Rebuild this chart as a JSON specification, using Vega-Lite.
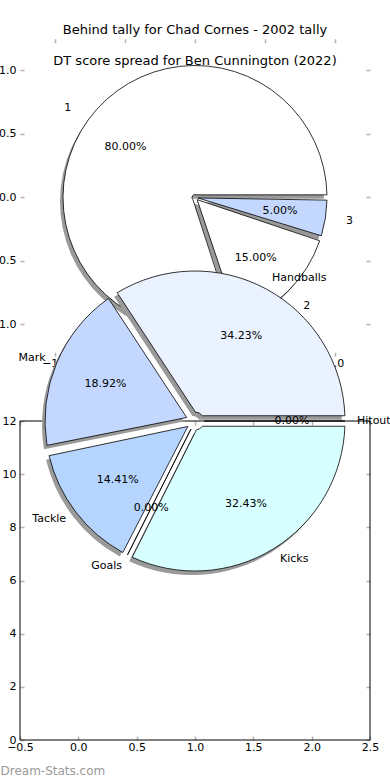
{
  "$schema": "https://vega.github.io/schema/vega-lite/v6.json",
  "width": 390,
  "height": 780,
  "autosize": {"type": "none"},
  "padding": 0,
  "background": "white",
  "title": {
    "text": "Behind tally for Chad Cornes - 2002 tally",
    "subtitle": "DT score spread for Ben Cunnington (2022)",
    "anchor": "middle",
    "frame": "group",
    "offset": -68,
    "font": "DejaVu Sans",
    "subtitleFont": "DejaVu Sans",
    "fontSize": 13,
    "subtitleFontSize": 13,
    "fontWeight": "normal",
    "color": "#000000",
    "subtitleColor": "#000000",
    "subtitlePadding": 18
  },
  "datasets": {
    "behind": [
      {"name": "1", "value": 16, "pct": "80.00%", "idx": 1},
      {"name": "2", "value": 3, "pct": "15.00%", "idx": 2},
      {"name": "3", "value": 1, "pct": "5.00%", "idx": 3}
    ],
    "dt": [
      {"name": "Handballs", "value": 38, "pct": "34.23%", "idx": 1},
      {"name": "Mark", "value": 21, "pct": "18.92%", "idx": 2},
      {"name": "Tackle", "value": 16, "pct": "14.41%", "idx": 3},
      {"name": "Goals", "value": 0, "pct": "0.00%", "idx": 4},
      {"name": "Kicks", "value": 36, "pct": "32.43%", "idx": 5},
      {"name": "Hitout", "value": 0, "pct": "0.00%", "idx": 6}
    ]
  },
  "config": {
    "font": "DejaVu Sans",
    "view": {"stroke": null},
    "axis": {
      "domain": false,
      "grid": false,
      "tickColor": "#b3b3b3",
      "tickSize": -4,
      "tickWidth": 1.5,
      "labelFont": "DejaVu Sans",
      "labelFontSize": 11,
      "labelColor": "#000000",
      "labelPadding": 5,
      "labelFlush": false,
      "labelOverlap": false,
      "labelBound": false
    },
    "text": {"font": "DejaVu Sans", "fontSize": 11, "color": "#000000"}
  },
  "resolve": {
    "scale": {"x": "independent", "y": "independent", "theta": "independent", "color": "independent"},
    "axis": {"x": "independent", "y": "independent"}
  },
  "layer": [
    {
      "data": {"name": "behind"},
      "resolve": {"axis": {"x": "independent", "y": "independent"}},
      "layer": [
        {
          "mark": {"type": "arc", "radius": 132, "radius2": 3, "padAngle": 0.04, "fill": "#9a9a9a", "xOffset": -3, "yOffset": 4},
          "encoding": {
            "x": {"datum": 0, "type": "quantitative", "scale": {"domain": [-1.392857, 1.392857], "nice": false, "zero": false}, "axis": {"orient": "bottom", "offset": -423.75, "values": [-1, -0.5, 0, 0.5, 1], "format": ".1f", "title": null}},
            "y": {"datum": 0, "type": "quantitative", "scale": {"domain": [-4.5866, 1.5551], "nice": false, "zero": false}, "axis": {"orient": "left", "offset": -20, "values": [-1, -0.5, 0, 0.5, 1], "format": ".1f", "labelPadding": 8, "title": null}},
            "theta": {"field": "value", "type": "quantitative", "stack": true, "scale": {"range": [1.5708, -4.7124]}},
            "order": {"field": "idx"}
          }
        },
        {
          "mark": {"type": "arc", "radius": 132, "radius2": 3, "padAngle": 0.04, "stroke": "#000000", "strokeWidth": 0.8},
          "encoding": {
            "x": {"datum": 0, "type": "quantitative", "scale": {"domain": [-1.392857, 1.392857], "nice": false, "zero": false}, "axis": {"orient": "top", "offset": -38.75, "values": [-1, -0.5, 0, 0.5, 1], "labels": false, "title": null}},
            "y": {"datum": 0, "type": "quantitative", "scale": {"domain": [-4.5866, 1.5551], "nice": false, "zero": false}, "axis": {"orient": "right", "offset": -20, "values": [-1, -0.5, 0, 0.5, 1], "labels": false, "title": null}},
            "theta": {"field": "value", "type": "quantitative", "stack": true, "scale": {"range": [1.5708, -4.7124]}},
            "order": {"field": "idx"},
            "color": {"field": "name", "type": "nominal", "scale": {"domain": ["1", "2", "3"], "range": ["#ffffff", "#ffffff", "#c4d8ff"]}, "legend": null}
          }
        },
        {
          "mark": {"type": "text", "radius": 153, "baseline": "middle", "align": {"expr": "indexof(['2','3'], datum.name) >= 0 ? 'left' : 'right'"}},
          "encoding": {
            "x": {"datum": 0, "type": "quantitative", "axis": null},
            "y": {"datum": 0, "type": "quantitative", "axis": null},
            "theta": {"field": "value", "type": "quantitative", "stack": true},
            "order": {"field": "idx"},
            "text": {"field": "name"}
          }
        },
        {
          "mark": {"type": "text", "radius": 86, "baseline": "middle", "align": "center"},
          "encoding": {
            "x": {"datum": 0, "type": "quantitative", "axis": null},
            "y": {"datum": 0, "type": "quantitative", "axis": null},
            "theta": {"field": "value", "type": "quantitative", "stack": true},
            "order": {"field": "idx"},
            "text": {"field": "pct"}
          }
        }
      ]
    },
    {
      "data": {"name": "dt"},
      "resolve": {"axis": {"x": "independent", "y": "independent"}},
      "layer": [
        {
          "data": {"values": [{}]},
          "mark": {"type": "rect", "fill": null, "fillOpacity": 0, "stroke": "#000000", "strokeWidth": 1},
          "encoding": {
            "x": {"datum": -0.5, "type": "quantitative", "scale": {"domain": [-0.671429, 2.671429], "nice": false, "zero": false}, "axis": {"orient": "bottom", "offset": -40, "values": [-0.5, 0, 0.5, 1, 1.5, 2, 2.5], "format": ".1f", "title": "Dream-Stats.com", "titleColor": "#9a9a9a", "titleFont": "DejaVu Sans", "titleFontSize": 12, "titleFontWeight": "normal", "titleAlign": "left", "titleAnchor": "start", "titleBaseline": "middle", "titleX": 0, "titleY": 30}},
            "x2": {"datum": 2.5},
            "y": {"datum": 0, "type": "quantitative", "scale": {"domain": [-1.5047, 27.837], "nice": false, "zero": false}, "axis": {"orient": "left", "offset": -20, "values": [0, 2, 4, 6, 8, 10, 12], "format": "d", "labelPadding": 8, "title": null}},
            "y2": {"datum": 12}
          }
        },
        {
          "mark": {"type": "arc", "radius": 150, "radius2": 9, "padAngle": 0.07, "fill": "#9a9a9a", "xOffset": -3, "yOffset": 4},
          "encoding": {
            "x": {"datum": 1, "type": "quantitative", "scale": {"domain": [-0.671429, 2.671429], "nice": false, "zero": false}, "axis": {"orient": "top", "offset": -421, "values": [-0.5, 0, 0.5, 1, 1.5, 2, 2.5], "labels": false, "title": null}},
            "y": {"datum": 12, "type": "quantitative", "scale": {"domain": [-1.5047, 27.837], "nice": false, "zero": false}, "axis": {"orient": "right", "offset": -20, "values": [0, 2, 4, 6, 8, 10, 12], "labels": false, "title": null}},
            "theta": {"field": "value", "type": "quantitative", "stack": true, "scale": {"range": [1.5708, -4.7124]}},
            "order": {"field": "idx"}
          }
        },
        {
          "mark": {"type": "arc", "radius": 150, "radius2": 9, "padAngle": 0.07, "stroke": "#000000", "strokeWidth": 0.8},
          "encoding": {
            "x": {"datum": 1, "type": "quantitative", "axis": null},
            "y": {"datum": 12, "type": "quantitative", "axis": null},
            "theta": {"field": "value", "type": "quantitative", "stack": true},
            "order": {"field": "idx"},
            "color": {"field": "name", "type": "nominal", "scale": {"domain": ["Handballs", "Mark", "Tackle", "Goals", "Kicks", "Hitout"], "range": ["#eaf1ff", "#c4d8ff", "#b5d5ff", "#ffffff", "#d8ffff", "#ffffff"]}, "legend": null}
          }
        },
        {
          "mark": {"type": "text", "radius": 162, "baseline": "middle", "align": {"expr": "indexof(['Handballs','Kicks','Hitout'], datum.name) >= 0 ? 'left' : 'right'"}},
          "encoding": {
            "x": {"datum": 1, "type": "quantitative", "axis": null},
            "y": {"datum": 12, "type": "quantitative", "axis": null},
            "theta": {"field": "value", "type": "quantitative", "stack": true},
            "order": {"field": "idx"},
            "text": {"field": "name"}
          }
        },
        {
          "mark": {"type": "text", "radius": 97, "baseline": "middle", "align": "center"},
          "encoding": {
            "x": {"datum": 1, "type": "quantitative", "axis": null},
            "y": {"datum": 12, "type": "quantitative", "axis": null},
            "theta": {"field": "value", "type": "quantitative", "stack": true},
            "order": {"field": "idx"},
            "text": {"field": "pct"}
          }
        }
      ]
    }
  ]
}
